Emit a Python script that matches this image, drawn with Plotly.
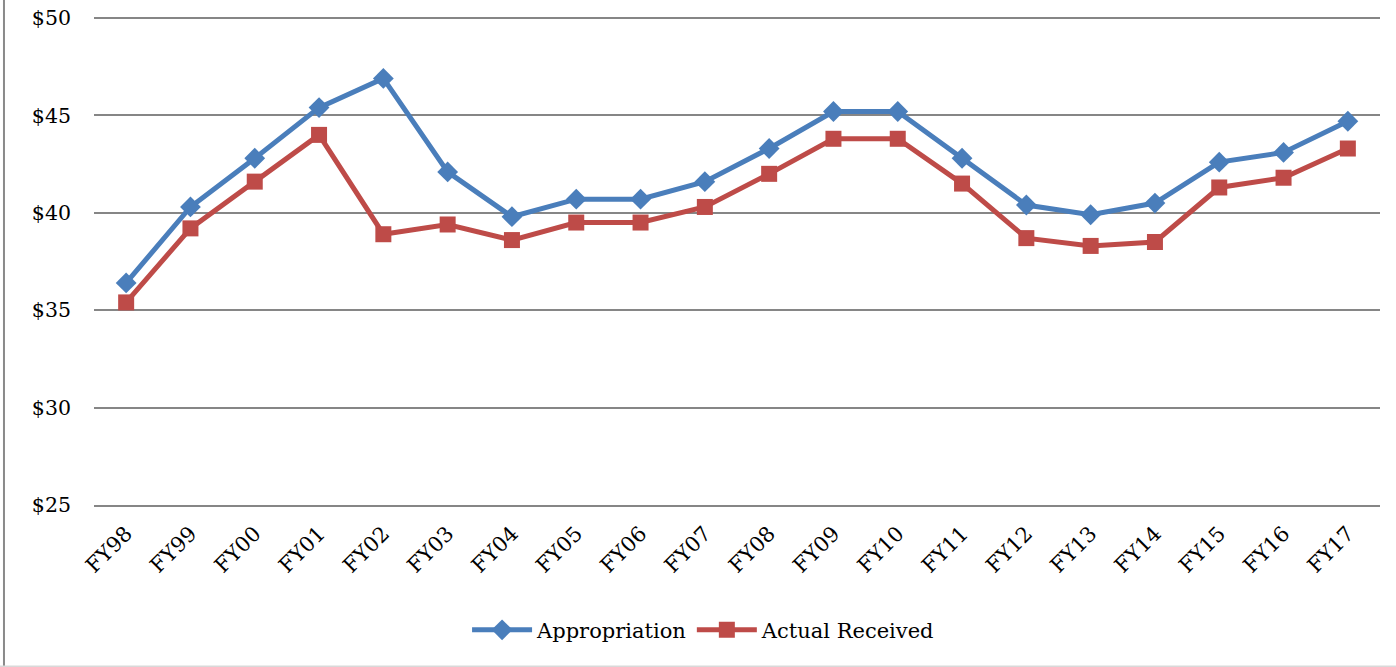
import plotly.graph_objects as go

years = ["FY98", "FY99", "FY00", "FY01", "FY02", "FY03", "FY04", "FY05", "FY06", "FY07",
         "FY08", "FY09", "FY10", "FY11", "FY12", "FY13", "FY14", "FY15", "FY16", "FY17"]
appropriation = [36.4, 40.3, 42.8, 45.4, 46.9, 42.1, 39.8, 40.7, 40.7, 41.6,
                 43.3, 45.2, 45.2, 42.8, 40.4, 39.9, 40.5, 42.6, 43.1, 44.7]
actual_received = [35.4, 39.2, 41.6, 44.0, 38.9, 39.4, 38.6, 39.5, 39.5, 40.3,
                   42.0, 43.8, 43.8, 41.5, 38.7, 38.3, 38.5, 41.3, 41.8, 43.3]

BLUE = "#4a7ebb"
RED = "#be4b48"
FONT = "DejaVu Serif"

fig = go.Figure()
fig.add_trace(go.Scatter(
    x=years, y=appropriation, name="Appropriation", mode="lines+markers",
    line=dict(color=BLUE, width=5),
    marker=dict(symbol="diamond", size=16, color=BLUE),
))
fig.add_trace(go.Scatter(
    x=years, y=actual_received, name="Actual Received", mode="lines+markers",
    line=dict(color=RED, width=5),
    marker=dict(symbol="square", size=16, color=RED),
))

fig.update_layout(
    width=1396, height=667,
    margin=dict(l=94, r=16, t=18, b=162, autoexpand=False),
    paper_bgcolor="white", plot_bgcolor="white",
    font=dict(family=FONT, size=20, color="black"),
    showlegend=True,
    legend=dict(orientation="h", x=0.474, xanchor="center", y=-0.257, yanchor="middle",
                font=dict(family=FONT, size=21, color="black"), itemwidth=60,
                tracegroupgap=0),
    xaxis=dict(
        type="category", range=[-0.5, 19.5], tickangle=-45, showgrid=False,
        showline=True, linecolor="#868686", linewidth=2, automargin=False,
        tickfont=dict(family=FONT, size=21, color="black"), ticklabelstandoff=6,
    ),
    yaxis=dict(
        range=[25, 50], dtick=5, tickprefix="$", showgrid=True, automargin=False,
        gridcolor="#868686", gridwidth=2, zeroline=False, showline=False,
        tickfont=dict(family=FONT, size=20.5, color="black"), ticklabelstandoff=22,
    ),
    shapes=[
        dict(type="line", xref="paper", yref="paper", x0=-0.0700, x1=-0.0700,
             y0=1.04, y1=-0.334, line=dict(color="#8a8a8a", width=2)),
        dict(type="line", xref="paper", yref="paper", x0=-0.075, x1=1.015,
             y0=-0.331, y1=-0.331, line=dict(color="#d9d9d9", width=1.5)),
        dict(type="line", xref="paper", yref="paper", x0=0, x1=1,
             y0=1, y1=1, line=dict(color="#868686", width=2)),
    ],
)

fig.write_html("out.html")
